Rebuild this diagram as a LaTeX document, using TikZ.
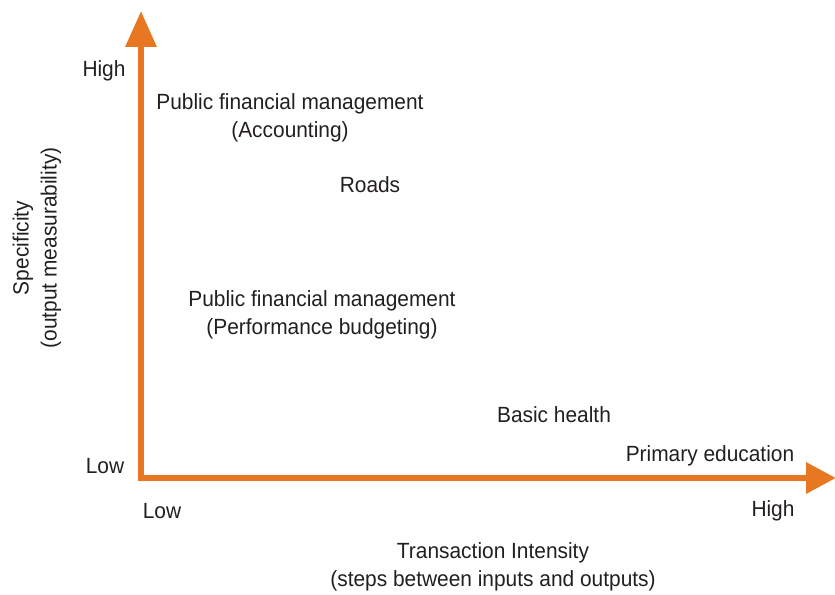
\documentclass[tikz,border=0pt]{standalone}
\usepackage{fontspec}
\setmainfont{Liberation Sans}[FakeStretch=0.95]
\usetikzlibrary{arrows.meta}
\definecolor{axisorange}{HTML}{E87722}
\definecolor{txt}{HTML}{231F20}
\begin{document}
\begin{tikzpicture}[x=1bp,y=-1bp,
  lbl/.style={inner sep=0pt,text=txt,font=\fontsize{22bp}{28bp}\selectfont,align=center},
  axisline/.style={draw=axisorange,line width=6.5bp,miter limit=10,
    {Triangle[length=36bp,width=30bp]}-{Triangle[length=30bp,width=30bp]}}]
\useasboundingbox (0,0) rectangle (835,595);
\coordinate (ytip) at (141,11);
\coordinate (origin) at (141,478);
\coordinate (xtip) at (836,478);
\draw[axisline] (ytip) -- (origin) -- (xtip);
\node[lbl] (yhigh) at (104,71) {High};
\node[lbl] (ylow) at (105,466) {Low};
\node[lbl] (xlow) at (162,511) {Low};
\node[lbl] (xhigh) at (773,511) {High};
\node[lbl,rotate=90] (ylabel) at (37,248) {Specificity\\(output measurability)};
\node[lbl] (xlabel) at (493,567) {Transaction Intensity\\(steps between inputs and outputs)};
\node[lbl] (pfma) at (290,118) {Public financial management\\(Accounting)};
\node[lbl] (roads) at (370,185) {Roads};
\node[lbl] (pfmp) at (322,315) {Public financial management\\(Performance budgeting)};
\node[lbl] (health) at (554,415) {Basic health};
\node[lbl] (educ) at (710,456) {Primary education};
\end{tikzpicture}
\end{document}
